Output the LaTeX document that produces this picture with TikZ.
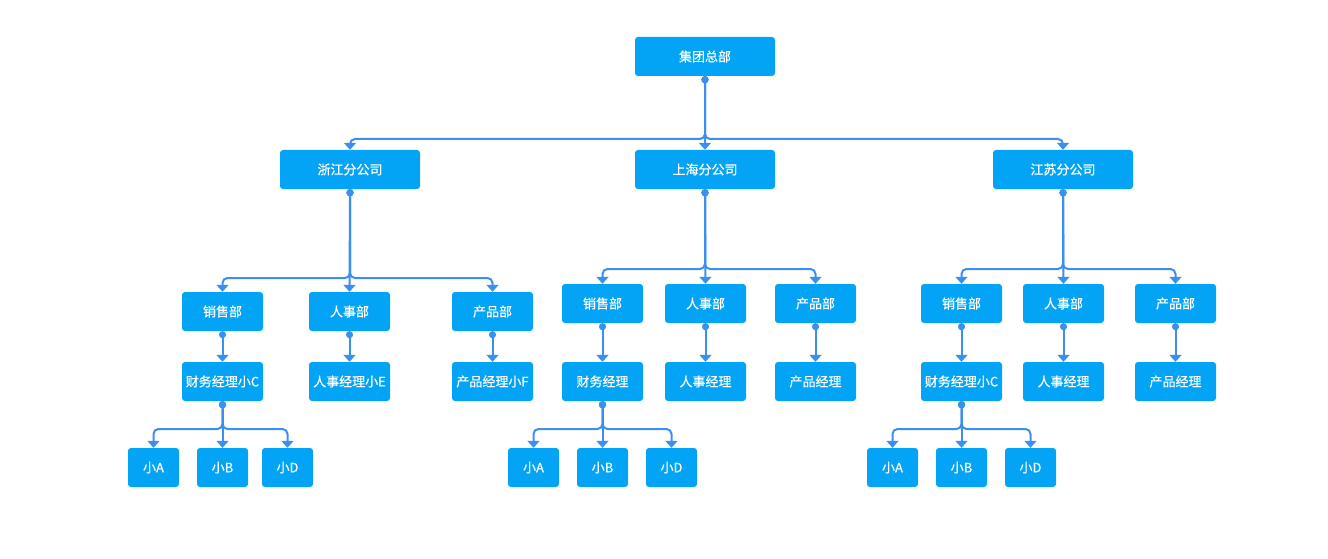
\documentclass[tikz,border=0pt]{standalone}
\usepackage{fontspec}
\newfontfamily\cjk[FakeBold=0.5]{Noto Sans CJK SC}
\usetikzlibrary{arrows.meta}
\definecolor{boxblue}{HTML}{03A4F5}
\definecolor{lineblue}{HTML}{3B8FF0}
\begin{document}
\begin{tikzpicture}[x=1pt, y=-1pt,
  box/.style={fill=boxblue, rounded corners=3pt, text=white, inner sep=2pt,
    minimum height=39pt, font=\cjk\fontsize{13}{15}\selectfont},
  bigbox/.style={box, minimum width=140pt},
  midbox/.style={box, minimum width=81pt},
  smallbox/.style={box, minimum width=51pt},
  conn/.style={draw=lineblue, line width=2pt, rounded corners=5pt,
    {Circle[length=7pt]}-{Triangle[width=12pt,length=7pt]}}]
\useasboundingbox (0,0) rectangle (1328,559);

\coordinate (bartop) at (0,139);
\coordinate (barzj) at (0,278);
\coordinate (barmid) at (0,269);
\coordinate (barlow) at (0,429);

% top level
\node[bigbox] (hq) at (705,56.5) {集团总部};
\node[bigbox] (zj) at (350,169.5) {浙江分公司};
\node[bigbox] (sh) at (705,169.5) {上海分公司};
\node[bigbox] (js) at (1063,169.5) {江苏分公司};

% zhejiang
\node[midbox] (zjsale) at (222.5,311.5) {销售部};
\node[midbox] (zjhr) at (349.5,311.5) {人事部};
\node[midbox] (zjprod) at (492.5,311.5) {产品部};
\node[midbox] (zjfin) at (222.5,381.5) {财务经理小C};
\node[midbox] (zjhrm) at (349.5,381.5) {人事经理小E};
\node[midbox] (zjprodm) at (492.5,381.5) {产品经理小F};
\node[smallbox] (zja) at (153.5,467.5) {小A};
\node[smallbox] (zjb) at (222.5,467.5) {小B};
\node[smallbox] (zjd) at (287.5,467.5) {小D};

% shanghai
\node[midbox] (shsale) at (602.5,303.5) {销售部};
\node[midbox] (shhr) at (705.5,303.5) {人事部};
\node[midbox] (shprod) at (815.5,303.5) {产品部};
\node[midbox] (shfin) at (602.5,381.5) {财务经理};
\node[midbox] (shhrm) at (705.5,381.5) {人事经理};
\node[midbox] (shprodm) at (815.5,381.5) {产品经理};
\node[smallbox] (sha) at (533.5,467.5) {小A};
\node[smallbox] (shb) at (602.5,467.5) {小B};
\node[smallbox] (shd) at (671.5,467.5) {小D};

% jiangsu
\node[midbox] (jssale) at (961.5,303.5) {销售部};
\node[midbox] (jshr) at (1063.5,303.5) {人事部};
\node[midbox] (jsprod) at (1175.5,303.5) {产品部};
\node[midbox] (jsfin) at (961.5,381.5) {财务经理小C};
\node[midbox] (jshrm) at (1063.5,381.5) {人事经理};
\node[midbox] (jsprodm) at (1175.5,381.5) {产品经理};
\node[smallbox] (jsa) at (892.5,467.5) {小A};
\node[smallbox] (jsb) at (961.5,467.5) {小B};
\node[smallbox] (jsd) at (1030.5,467.5) {小D};

% headquarters
\draw[conn] (hq.south) |- (zj.north |- bartop) -- (zj.north);
\draw[conn] (hq) -- (sh);
\draw[conn] (hq.south) |- (js.north |- bartop) -- (js.north);

% zhejiang links
\draw[conn] (zj.south) |- (zjsale.north |- barzj) -- (zjsale.north);
\draw[conn] (zj.south) -- (zjhr.north);
\draw[conn] (zj.south) |- (zjprod.north |- barzj) -- (zjprod.north);
\draw[conn] (zjsale) -- (zjfin);
\draw[conn] (zjhr) -- (zjhrm);
\draw[conn] (zjprod) -- (zjprodm);
\draw[conn] (zjfin.south) |- (zja.north |- barlow) -- (zja.north);
\draw[conn] (zjfin) -- (zjb);
\draw[conn] (zjfin.south) |- (zjd.north |- barlow) -- (zjd.north);

% shanghai links
\draw[conn] (sh.south) |- (shsale.north |- barmid) -- (shsale.north);
\draw[conn] (sh.south) -- (shhr.north);
\draw[conn] (sh.south) |- (shprod.north |- barmid) -- (shprod.north);
\draw[conn] (shsale) -- (shfin);
\draw[conn] (shhr) -- (shhrm);
\draw[conn] (shprod) -- (shprodm);
\draw[conn] (shfin.south) |- (sha.north |- barlow) -- (sha.north);
\draw[conn] (shfin) -- (shb);
\draw[conn] (shfin.south) |- (shd.north |- barlow) -- (shd.north);

% jiangsu links
\draw[conn] (js.south) |- (jssale.north |- barmid) -- (jssale.north);
\draw[conn] (js.south) -- (jshr.north);
\draw[conn] (js.south) |- (jsprod.north |- barmid) -- (jsprod.north);
\draw[conn] (jssale) -- (jsfin);
\draw[conn] (jshr) -- (jshrm);
\draw[conn] (jsprod) -- (jsprodm);
\draw[conn] (jsfin.south) |- (jsa.north |- barlow) -- (jsa.north);
\draw[conn] (jsfin) -- (jsb);
\draw[conn] (jsfin.south) |- (jsd.north |- barlow) -- (jsd.north);
\end{tikzpicture}
\end{document}
